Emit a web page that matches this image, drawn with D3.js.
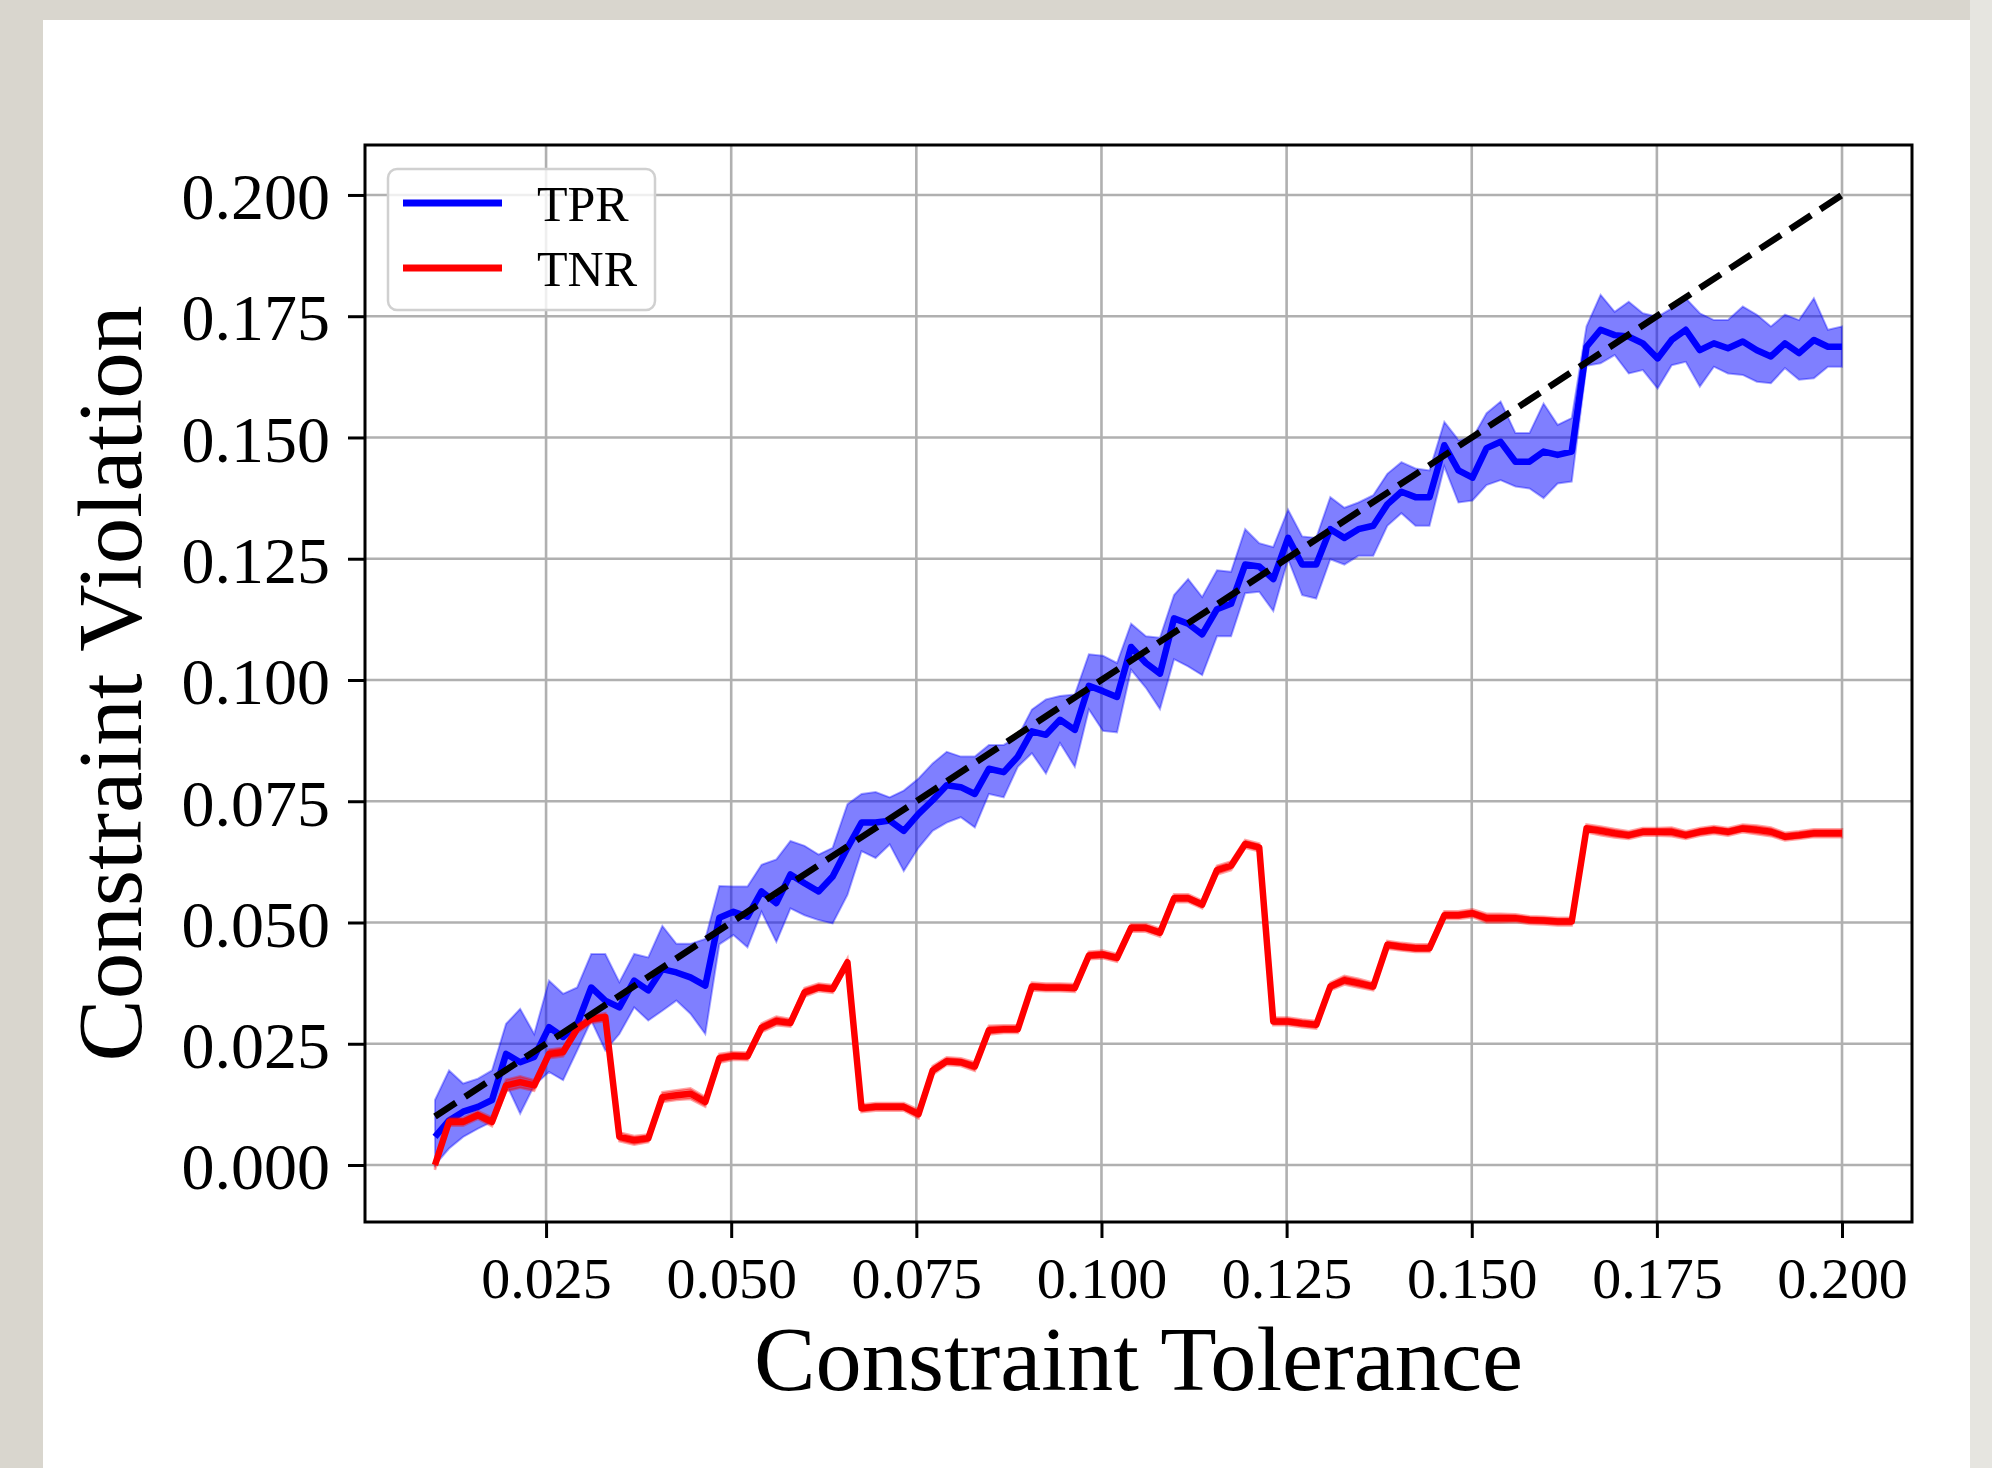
<!DOCTYPE html>
<html>
<head>
<meta charset="utf-8">
<script src="https://cdn.jsdelivr.net/npm/d3@7"></script>
<style>
  body { margin: 0; background: #d8d5cd; }
  svg { display: block; }
</style>
</head>
<body>
<svg id="chart" width="1992" height="1468"></svg>
<script>
// constraint tolerance (x), 100 evenly spaced runs
const tolerance = [
  0.0100, 0.0119, 0.0138, 0.0158, 0.0177, 0.0196, 0.0215, 0.0234, 0.0254, 0.0273,
  0.0292, 0.0311, 0.0330, 0.0349, 0.0369, 0.0388, 0.0407, 0.0426, 0.0445, 0.0465,
  0.0484, 0.0503, 0.0522, 0.0541, 0.0561, 0.0580, 0.0599, 0.0618, 0.0637, 0.0657,
  0.0676, 0.0695, 0.0714, 0.0733, 0.0753, 0.0772, 0.0791, 0.0810, 0.0829, 0.0848,
  0.0868, 0.0887, 0.0906, 0.0925, 0.0944, 0.0964, 0.0983, 0.1002, 0.1021, 0.1040,
  0.1060, 0.1079, 0.1098, 0.1117, 0.1136, 0.1156, 0.1175, 0.1194, 0.1213, 0.1232,
  0.1252, 0.1271, 0.1290, 0.1309, 0.1328, 0.1347, 0.1367, 0.1386, 0.1405, 0.1424,
  0.1443, 0.1463, 0.1482, 0.1501, 0.1520, 0.1539, 0.1559, 0.1578, 0.1597, 0.1616,
  0.1635, 0.1655, 0.1674, 0.1693, 0.1712, 0.1731, 0.1751, 0.1770, 0.1789, 0.1808,
  0.1827, 0.1846, 0.1866, 0.1885, 0.1904, 0.1923, 0.1942, 0.1962, 0.1981, 0.2000
];

const tprMean = [
  0.0058, 0.0092, 0.0110, 0.0120, 0.0134, 0.0229, 0.0212, 0.0223, 0.0284, 0.0264,
  0.0290, 0.0366, 0.0339, 0.0325, 0.0380, 0.0360, 0.0404, 0.0397, 0.0387, 0.0370,
  0.0510, 0.0522, 0.0512, 0.0564, 0.0540, 0.0599, 0.0581, 0.0564, 0.0595, 0.0654,
  0.0706, 0.0706, 0.0710, 0.0689, 0.0724, 0.0752, 0.0783, 0.0779, 0.0765, 0.0817,
  0.0810, 0.0842, 0.0894, 0.0887, 0.0918, 0.0897, 0.0988, 0.0977, 0.0965, 0.1068,
  0.1035, 0.1013, 0.1127, 0.1116, 0.1094, 0.1146, 0.1157, 0.1238, 0.1234, 0.1208,
  0.1293, 0.1238, 0.1238, 0.1311, 0.1293, 0.1311, 0.1318, 0.1362, 0.1388, 0.1377,
  0.1377, 0.1484, 0.1432, 0.1417, 0.1478, 0.1491, 0.1450, 0.1450, 0.1471, 0.1464,
  0.1471, 0.1687, 0.1722, 0.1711, 0.1708, 0.1694, 0.1663, 0.1701, 0.1722, 0.1680,
  0.1694, 0.1684, 0.1698, 0.1680, 0.1667, 0.1694, 0.1674, 0.1701, 0.1687, 0.1687
];

const tprHigh = [
  0.0134, 0.0195, 0.0168, 0.0178, 0.0195, 0.0291, 0.0322, 0.0270, 0.0380, 0.0353,
  0.0366, 0.0435, 0.0435, 0.0377, 0.0435, 0.0428, 0.0493, 0.0456, 0.0456, 0.0466,
  0.0575, 0.0574, 0.0574, 0.0619, 0.0630, 0.0668, 0.0658, 0.0640, 0.0654, 0.0744,
  0.0765, 0.0769, 0.0758, 0.0772, 0.0797, 0.0828, 0.0852, 0.0842, 0.0842, 0.0866,
  0.0866, 0.0883, 0.0939, 0.0960, 0.0967, 0.0970, 0.1053, 0.1050, 0.1035, 0.1116,
  0.1090, 0.1087, 0.1175, 0.1208, 0.1171, 0.1226, 0.1223, 0.1311, 0.1282, 0.1274,
  0.1351, 0.1296, 0.1293, 0.1377, 0.1355, 0.1366, 0.1381, 0.1425, 0.1449, 0.1436,
  0.1432, 0.1532, 0.1495, 0.1499, 0.1550, 0.1574, 0.1509, 0.1509, 0.1570, 0.1526,
  0.1540, 0.1729, 0.1794, 0.1759, 0.1780, 0.1756, 0.1749, 0.1766, 0.1787, 0.1756,
  0.1742, 0.1742, 0.1770, 0.1753, 0.1729, 0.1753, 0.1742, 0.1787, 0.1722, 0.1729
];

const tprLow = [
  0.0000, 0.0034, 0.0058, 0.0075, 0.0089, 0.0168, 0.0106, 0.0164, 0.0192, 0.0175,
  0.0236, 0.0298, 0.0236, 0.0270, 0.0325, 0.0298, 0.0318, 0.0339, 0.0312, 0.0270,
  0.0455, 0.0474, 0.0449, 0.0522, 0.0460, 0.0529, 0.0515, 0.0505, 0.0498, 0.0557,
  0.0647, 0.0633, 0.0661, 0.0606, 0.0654, 0.0689, 0.0706, 0.0717, 0.0696, 0.0765,
  0.0758, 0.0821, 0.0849, 0.0807, 0.0870, 0.0821, 0.0939, 0.0895, 0.0892, 0.1021,
  0.0984, 0.0940, 0.1043, 0.1028, 0.1010, 0.1090, 0.1090, 0.1179, 0.1182, 0.1142,
  0.1249, 0.1175, 0.1168, 0.1249, 0.1238, 0.1256, 0.1256, 0.1318, 0.1344, 0.1318,
  0.1318, 0.1440, 0.1366, 0.1370, 0.1402, 0.1412, 0.1399, 0.1395, 0.1375, 0.1405,
  0.1409, 0.1648, 0.1653, 0.1670, 0.1632, 0.1639, 0.1601, 0.1649, 0.1656, 0.1605,
  0.1646, 0.1632, 0.1629, 0.1615, 0.1612, 0.1643, 0.1619, 0.1622, 0.1646, 0.1646
];

const tnrMean = [
  0.0000, 0.0089, 0.0089, 0.0103, 0.0089, 0.0164, 0.0171, 0.0164, 0.0229, 0.0233,
  0.0281, 0.0301, 0.0305, 0.0058, 0.0051, 0.0055, 0.0140, 0.0144, 0.0147, 0.0130,
  0.0220, 0.0225, 0.0224, 0.0283, 0.0297, 0.0293, 0.0356, 0.0366, 0.0363, 0.0418,
  0.0117, 0.0120, 0.0120, 0.0120, 0.0105, 0.0195, 0.0214, 0.0212, 0.0203, 0.0278,
  0.0280, 0.0280, 0.0368, 0.0366, 0.0366, 0.0365, 0.0432, 0.0434, 0.0427, 0.0489,
  0.0489, 0.0479, 0.0550, 0.0550, 0.0537, 0.0608, 0.0617, 0.0662, 0.0655, 0.0296,
  0.0296, 0.0292, 0.0289, 0.0368, 0.0381, 0.0375, 0.0368, 0.0454, 0.0450, 0.0447,
  0.0447, 0.0515, 0.0515, 0.0519, 0.0509, 0.0509, 0.0509, 0.0505, 0.0504, 0.0502,
  0.0502, 0.0694, 0.0689, 0.0684, 0.0680, 0.0687, 0.0687, 0.0687, 0.0680, 0.0687,
  0.0691, 0.0687, 0.0694, 0.0691, 0.0687, 0.0677, 0.0680, 0.0684, 0.0684, 0.0684
];

// half width of the red band
const tnrSpread = [
  0.0010, 0.0008, 0.0008, 0.0008, 0.0009, 0.0012, 0.0012, 0.0011, 0.0009, 0.0009,
  0.0008, 0.0008, 0.0008, 0.0009, 0.0009, 0.0008, 0.0010, 0.0010, 0.0011, 0.0010,
  0.0009, 0.0008, 0.0008, 0.0009, 0.0009, 0.0008, 0.0009, 0.0008, 0.0008, 0.0008,
  0.0008, 0.0008, 0.0008, 0.0008, 0.0009, 0.0009, 0.0008, 0.0008, 0.0009, 0.0009,
  0.0008, 0.0008, 0.0008, 0.0008, 0.0008, 0.0008, 0.0008, 0.0008, 0.0008, 0.0008,
  0.0008, 0.0008, 0.0008, 0.0008, 0.0008, 0.0009, 0.0009, 0.0008, 0.0008, 0.0008,
  0.0008, 0.0008, 0.0008, 0.0008, 0.0009, 0.0009, 0.0008, 0.0008, 0.0008, 0.0008,
  0.0008, 0.0008, 0.0008, 0.0008, 0.0009, 0.0009, 0.0008, 0.0008, 0.0008, 0.0008,
  0.0008, 0.0008, 0.0009, 0.0009, 0.0008, 0.0008, 0.0008, 0.0009, 0.0008, 0.0008,
  0.0008, 0.0008, 0.0008, 0.0009, 0.0009, 0.0008, 0.0008, 0.0008, 0.0008, 0.0008
];

const xTicks = [0.025, 0.050, 0.075, 0.100, 0.125, 0.150, 0.175, 0.200];
const yTicks = [0.000, 0.025, 0.050, 0.075, 0.100, 0.125, 0.150, 0.175, 0.200];
const seriesNames = ["TPR", "TNR"];
const seriesColors = ["#0000ff", "#ff0000"];

const svg = d3.select("#chart");
const W = 1992, H = 1468;
const m = { left: 365, right: 1912, top: 145, bottom: 1222 };
const serif = "'Liberation Serif', 'DejaVu Serif', serif";

// backdrop + white card
svg.append("rect").attr("width", W).attr("height", H).attr("fill", "#d9d6ce");
svg.append("rect").attr("x", 1970).attr("y", 0).attr("width", 22).attr("height", H).attr("fill", "#e6e5e0");
svg.append("rect").attr("x", 43).attr("y", 20).attr("width", 1927).attr("height", H - 20).attr("fill", "#ffffff");

const x = d3.scaleLinear().domain([0.00055, 0.20945]).range([m.left, m.right]);
const y = d3.scaleLinear().domain([-0.01175, 0.2103]).range([m.bottom, m.top]);

// grid
const grid = svg.append("g").attr("stroke", "#b0b0b0").attr("stroke-width", 2.6);
grid.selectAll(".gx").data(xTicks).join("line")
  .attr("x1", d => x(d)).attr("x2", d => x(d))
  .attr("y1", m.top).attr("y2", m.bottom);
grid.selectAll(".gy").data(yTicks).join("line")
  .attr("x1", m.left).attr("x2", m.right)
  .attr("y1", d => y(d)).attr("y2", d => y(d));

svg.append("clipPath").attr("id", "plotclip")
  .append("rect").attr("x", m.left).attr("y", m.top)
  .attr("width", m.right - m.left).attr("height", m.bottom - m.top);
const plot = svg.append("g").attr("clip-path", "url(#plotclip)");

const idx = d3.range(tolerance.length);

// TPR band + mean
const tprArea = d3.area().x(i => x(tolerance[i])).y0(i => y(tprLow[i])).y1(i => y(tprHigh[i]));
plot.append("path").attr("d", tprArea(idx))
  .attr("fill", seriesColors[0]).attr("fill-opacity", 0.5)
  .attr("stroke", seriesColors[0]).attr("stroke-opacity", 0.35).attr("stroke-width", 2);
const meanLine = arr => d3.line().x(i => x(tolerance[i])).y(i => y(arr[i]));
plot.append("path").attr("d", meanLine(tprMean)(idx))
  .attr("fill", "none").attr("stroke", seriesColors[0]).attr("stroke-width", 6.5)
  .attr("stroke-linejoin", "round");

// TNR band + mean
const tnrArea = d3.area().x(i => x(tolerance[i]))
  .y0(i => y(tnrMean[i] - tnrSpread[i])).y1(i => y(tnrMean[i] + tnrSpread[i]));
plot.append("path").attr("d", tnrArea(idx))
  .attr("fill", seriesColors[1]).attr("fill-opacity", 0.5)
  .attr("stroke", seriesColors[1]).attr("stroke-opacity", 0.35).attr("stroke-width", 2.5);
plot.append("path").attr("d", meanLine(tnrMean)(idx))
  .attr("fill", "none").attr("stroke", seriesColors[1]).attr("stroke-width", 6.5)
  .attr("stroke-linejoin", "round");

// y = x reference
const ends = [tolerance[0], tolerance[tolerance.length - 1]];
plot.append("path")
  .attr("d", d3.line().x(d => x(d)).y(d => y(d))(ends))
  .attr("fill", "none").attr("stroke", "#000").attr("stroke-width", 6.5)
  .attr("stroke-dasharray", "25,11");

// axes
const xAxis = svg.append("g").attr("transform", `translate(0,${m.bottom})`)
  .call(d3.axisBottom(x).tickValues(xTicks).tickFormat(d3.format(".3f"))
    .tickSize(16).tickPadding(19));
xAxis.selectAll("text").attr("font-family", serif).attr("font-size", 58).attr("fill", "#000");

const yAxis = svg.append("g").attr("transform", `translate(${m.left},0)`)
  .call(d3.axisLeft(y).tickValues(yTicks).tickFormat(d3.format(".3f"))
    .tickSize(17).tickPadding(18));
yAxis.selectAll("text").attr("font-family", serif).attr("font-size", 66)
  .attr("fill", "#000").attr("dy", "0.36em");

[xAxis, yAxis].forEach(a => {
  a.select(".domain").remove();
  a.selectAll(".tick line").attr("stroke", "#000").attr("stroke-width", 3);
});

svg.append("rect").attr("x", m.left).attr("y", m.top)
  .attr("width", m.right - m.left).attr("height", m.bottom - m.top)
  .attr("fill", "none").attr("stroke", "#000").attr("stroke-width", 3);

// axis titles
svg.append("text").attr("x", (m.left + m.right) / 2).attr("y", 1390)
  .attr("text-anchor", "middle").attr("font-family", serif).attr("font-size", 91)
  .attr("textLength", 769).attr("lengthAdjust", "spacingAndGlyphs")
  .text("Constraint Tolerance");
svg.append("text")
  .attr("transform", `translate(141,${(m.top + m.bottom) / 2}) rotate(-90)`)
  .attr("text-anchor", "middle").attr("font-family", serif).attr("font-size", 91)
  .attr("textLength", 756).attr("lengthAdjust", "spacingAndGlyphs")
  .text("Constraint Violation");

// legend
const lg = svg.append("g").attr("transform", "translate(388,169)");
lg.append("rect").attr("width", 267).attr("height", 141).attr("rx", 9)
  .attr("fill", "#fff").attr("fill-opacity", 0.8)
  .attr("stroke", "#d0d0d0").attr("stroke-width", 2.5);
seriesNames.forEach((name, i) => {
  const row = lg.append("g").attr("transform", `translate(0,${34 + i * 65})`);
  row.append("line").attr("x1", 15).attr("x2", 114)
    .attr("stroke", seriesColors[i]).attr("stroke-width", 7);
  row.append("text").attr("x", 149).attr("y", 18)
    .attr("font-family", serif).attr("font-size", 50).attr("fill", "#000")
    .text(name);
});
</script>
</body>
</html>
